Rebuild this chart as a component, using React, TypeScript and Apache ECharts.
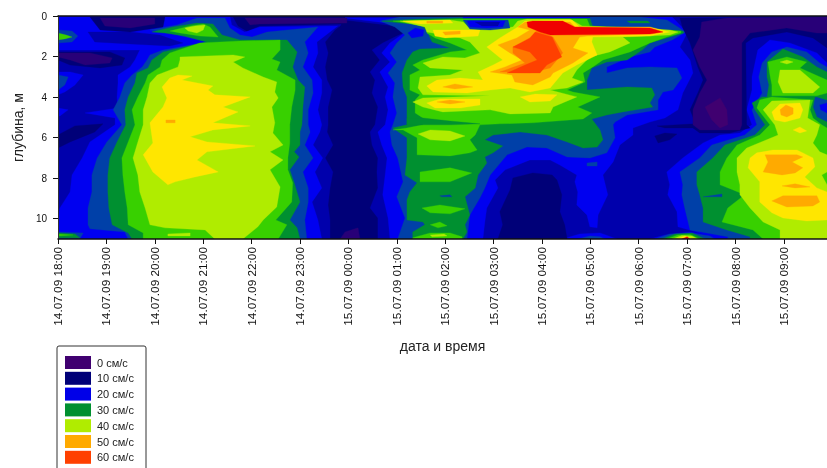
import React, { useEffect, useRef } from "react";
import * as echarts from "echarts";

const timeLabels = ["14.07.09 18:00","14.07.09 19:00","14.07.09 20:00","14.07.09 21:00","14.07.09 22:00","14.07.09 23:00","15.07.09 00:00","15.07.09 01:00","15.07.09 02:00","15.07.09 03:00","15.07.09 04:00","15.07.09 05:00","15.07.09 06:00","15.07.09 07:00","15.07.09 08:00","15.07.09 09:00"];
const legendLabels = ["0 см/с","10 см/с","20 см/с","30 см/с","40 см/с","50 см/с","60 см/с"];
const legendColors = ["#400070","#000078","#0000e8","#009030","#b0ec00","#ffaa00","#ff4000"];

type Ring = number[][];
// Contour outlines: [hours after 18:00, depth in metres]
const navyBase: Ring[] = [[[0,0],[15.89,0],[15.89,11],[0,11]]];
const nav2Rings: Ring[] = [
[[0,0],[5.93,0],[5.83,.49],[5.72,.69],[5.52,1.28],[5.58,1.82],[5.52,2.51],[5.56,3.16],[5.66,3.65],[5.58,4.49],[5.58,5.37],[5.56,5.72],[5.68,6.36],[5.52,7],[5.68,7.69],[5.62,8.48],[5.58,9.32],[5.62,10.06],[5.62,11],[0,11]],
[[5.93,0],[15.89,0],[15.89,11],[6.61,11],[6.61,9.96],[6.45,9.47],[6.61,8.48],[6.59,7.69],[6.61,7],[6.49,6.36],[6.45,5.72],[6.55,5.37],[6.61,4.49],[6.49,3.8],[6.55,3.16],[6.45,2.76],[6.65,2.17],[6.49,1.68],[6.71,1.33],[6.96,1.04],[7.27,.69],[7.21,.54],[6.96,.49],[5.93,.2]],
];
const blueRings: Ring[] = [
[[0,0],[3.55,0],[3.59,.44],[3.86,.79],[4.17,.54],[5.78,.49],[5.35,1.28],[5.37,1.82],[5.27,2.51],[5.45,3.16],[5.45,3.8],[5.37,4.63],[5.45,5.37],[5.41,5.72],[5.27,6.36],[5.47,7],[5.31,7.69],[5.45,8.48],[5.25,9.17],[5.37,10.06],[5.45,11],[0,11],[0,9.81],[.04,9.47],[.25,8.68],[.29,7.84],[.5,7],[.66,6.21],[1.18,5.37],[1.18,5.03],[.56,4.78],[1.24,4.54],[1.22,3.99],[1.24,3.3],[1.24,2.91],[1.49,2.51],[1.59,2.17],[1.69,1.68],[1.07,1.68],[0,1.68]],
[[0,2.76],[.25,2.76],[.52,2.91],[.35,3.4],[.14,3.75],[0,3.89]],
[[0,4.54],[.21,4.63],[.04,4.93],[0,4.93]],
[[5.93,.1],[12.69,.05],[12.91,.59],[13,.84],[12.85,1.53],[13.06,2.17],[13.12,2.81],[12.91,3.8],[12.81,4.63],[12.54,5.03],[12.23,5.23],[11.88,5.52],[11.88,5.87],[11.61,6.36],[11.47,7.2],[11.26,7.84],[11.36,8.82],[11.16,9.81],[11.14,10.45],[10.99,10.4],[10.93,9.81],[10.72,9.32],[10.74,8.68],[10.68,8.18],[10.72,7.84],[10.37,7.35],[10.17,7.1],[9.75,7.1],[9.24,7.59],[9.03,8.09],[9.09,8.48],[8.86,9.47],[8.82,10.16],[8.78,11],[6.86,11],[6.82,9.96],[6.71,8.82],[6.76,7.84],[6.8,7],[6.69,6.36],[6.61,5.72],[6.76,5.37],[6.82,4.63],[6.76,3.99],[6.82,3.5],[6.65,2.76],[6.86,2.27],[6.69,1.82],[6.86,1.33],[7.33,.54],[6.96,.39]],
[[10.43,11],[10.78,10.75],[11.2,10.7],[11.55,11]],
[[12.23,11],[12.54,10.8],[13.06,10.65],[13.57,10.85],[13.68,11]],
[[14.34,3.01],[14.46,1.68],[14.71,1.18],[15.12,1.33],[15.68,1.82],[15.89,2.32],[15.89,11],[13.68,11],[12.81,10.4],[12.79,9.66],[12.6,8.82],[12.64,8.33],[12.58,7.69],[12.91,7],[13.33,6.26],[13.68,5.87],[14.09,5.77],[14.34,5.37],[14.23,4.63],[14.34,3.65]],
];
const midRings: Ring[] = [
[[1.9,.69],[2.46,.44],[2.87,.1],[3.45,.1],[3.55,.59],[3.76,.94],[4.01,1.04],[4.32,.79],[5.37,.54],[5.1,1.28],[5.17,1.82],[5.06,2.51],[5.25,3.16],[5.27,3.8],[5.17,4.63],[5.17,5.37],[5.21,5.72],[5.1,6.36],[5.27,7],[5.06,7.69],[5.17,8.48],[5.17,9.17],[5.1,10.06],[5.14,11],[1.45,11],[1.38,10.65],[.66,10.5],[.62,10.3],[.62,9.47],[.7,8.68],[.7,7.84],[.81,7],[1.01,6.21],[1.32,5.37],[1.14,4.63],[1.28,3.99],[1.38,3.3],[1.53,2.91],[1.74,2.51],[1.84,2.17],[1.9,1.92],[2.17,1.68],[3.08,1.28],[2.73,1.08],[2.21,.79]],
[[0,2.91],[.21,3.01],[.14,3.4],[0,3.65]],
[[0,.69],[.29,.74],[.41,.99],[.29,1.28],[0,1.33]],
[[0,10.65],[.52,10.7],[.45,11],[0,11]],
[[6.65,.25],[7.07,.05],[12.02,.05],[12.58,.2],[12.81,.54],[12.97,.79],[12.69,1.18],[12.33,1.53],[12.23,1.77],[11.82,2.02],[11.34,2.51],[11.34,2.81],[11.76,2.56],[12.23,2.51],[12.79,2.56],[12.89,3.06],[12.71,3.65],[12.5,3.75],[12.4,4.14],[12.4,4.63],[11.76,4.88],[11.51,5.23],[11.47,5.37],[11.51,6.01],[11.34,6.75],[10.99,7],[10.52,6.95],[10.1,6.51],[9.69,6.46],[9.28,6.85],[8.93,7.84],[8.82,8.48],[8.72,8.97],[8.51,9.81],[8.45,11],[7.02,11],[7.07,10.65],[7.17,9.96],[7,8.92],[7.13,8.18],[7.02,7],[6.9,6.36],[6.86,5.72],[6.92,5.37],[7,4.78],[6.92,3.99],[6.96,3.3],[6.82,2.81],[7,2.27],[6.86,1.82],[7,1.33],[7.17,.94],[6.96,.54]],
[[10.93,7.25],[11.14,7.2],[11.14,7.4],[10.93,7.4]],
[[10.74,11],[10.99,10.85],[11.2,10.89],[11.3,11]],
[[12.33,11],[12.64,10.75],[13.06,10.7],[13.47,10.85],[13.57,11]],
[[14.48,3.01],[14.55,2.32],[14.75,1.77],[15.06,1.53],[15.47,1.77],[15.74,2.32],[15.89,2.51],[15.89,11],[13.84,11],[13.84,10.89],[13.06,10.55],[13.02,10.16],[12.95,9.47],[12.89,8.82],[12.91,8.33],[12.85,7.69],[13.26,7],[13.51,6.36],[14.19,5.87],[14.44,5.37],[14.34,4.63],[14.4,4.39],[14.55,3.8]],
];
const darkGreenRings: Ring[] = [
[[1.94,.79],[2.38,.54],[2.87,.35],[3.2,.39],[3.39,.94],[3.76,1.18],[4.73,1.18],[4.94,1.77],[4.85,2.51],[4.96,3.16],[5.1,3.5],[5.06,4.49],[5.04,5.37],[5,5.72],[5,6.36],[4.88,6.7],[4.98,6.95],[4.79,7.59],[4.88,8.23],[5,9.17],[4.79,10.06],[4.94,10.45],[5,11],[1.53,11],[1.45,10.7],[1.12,10.3],[1.05,9.47],[1.03,8.68],[1.03,7.84],[1.07,7],[1.22,6.21],[1.4,5.37],[1.38,4.63],[1.45,3.99],[1.59,3.3],[1.63,2.81],[1.86,2.56],[1.94,2.17],[2.17,1.77],[3.08,1.28],[2.62,.99],[2.21,.84]],
[[0,10.7],[.35,10.75],[.45,10.94],[0,10.94]],
[[6.69,.25],[7.42,.15],[8.31,.1],[9.4,.1],[10.99,.1],[11.05,.54],[11.61,.54],[12.91,.74],[12.93,.84],[12.58,1.08],[12.23,1.33],[12.07,1.68],[11.76,2.17],[11.34,2.27],[11.03,2.56],[10.93,3.16],[10.93,3.65],[11.76,3.5],[12.27,3.55],[12.33,3.89],[12.23,4.29],[12.29,4.49],[11.67,4.73],[11.34,4.88],[11.03,5.08],[11.2,5.62],[11.26,6.11],[11.14,6.46],[10.85,6.51],[10.52,6.21],[10.1,5.87],[9.55,5.72],[8.99,5.87],[8.82,6.11],[9.19,6.41],[8.99,6.75],[8.82,6.95],[8.86,7.25],[8.68,7.84],[8.62,8.48],[8.41,8.92],[8.51,9.81],[8.41,10.3],[8.45,10.65],[8.37,11],[7.33,11],[7.33,10.65],[7.58,10.3],[7.54,10.16],[7.21,10.06],[7.21,9.07],[7.27,8.68],[7.42,8.23],[7.17,7.84],[7.21,7],[7.21,6.01],[6.92,5.52],[7.21,5.37],[7.21,3.99],[7.13,3.5],[7.11,2.81],[7.21,2.17],[7.33,1.77],[7.48,1.63],[8.1,1.58],[7.73,1.28],[7.69,1.08],[7.62,.69],[7.48,.39],[7.07,.35]],
[[14.55,3.99],[15.64,3.99],[15.6,4.49],[15.68,4.98],[15.89,5.23],[15.89,11],[14.3,11],[14.3,10.89],[13.82,10.55],[13.33,10.16],[13.33,9.47],[13.26,8.82],[13.2,8.33],[13.2,7.69],[13.53,7],[13.78,6.36],[14.4,5.87],[14.61,5.37],[14.4,4.63],[14.34,4.29]],
[[14.65,2.27],[14.98,1.63],[15.39,2.02],[15.68,2.51],[15.89,2.76],[15.89,4.14],[15.68,3.99],[14.65,3.99],[14.69,3.4],[14.65,3.01]],
[[12.48,11],[12.75,10.75],[13.1,10.7],[13.37,11]],
];
const greenRings: Ring[] = [
[[0,10.75],[.31,10.8],[0,10.85]],
[[0,.84],[.17,.94],[.29,1.04],[.14,1.13],[0,1.18]],
[[2.31,.74],[2.73,.49],[3,.39],[3.14,.54],[3.31,1.04],[2.93,.99],[2.52,.84]],
[[2.93,1.33],[3.76,1.23],[4.59,1.18],[4.59,1.68],[4.42,2.12],[4.59,2.27],[4.52,2.66],[4.9,3.16],[4.9,3.65],[4.83,4.49],[4.79,5.37],[4.79,6.26],[4.75,7],[4.75,7.59],[4.85,8.23],[4.83,9.17],[4.5,10.06],[4.73,10.3],[4.55,11],[1.76,11],[1.76,10.7],[1.45,10.3],[1.43,9.47],[1.38,8.68],[1.34,7.84],[1.32,7],[1.45,6.21],[1.59,5.37],[1.53,4.63],[1.65,3.99],[1.8,3.3],[1.86,2.91],[2.11,2.51],[2.15,2.17],[2.31,1.82]],
[[6.92,.25],[8.31,.15],[9.4,.15],[10.93,.15],[10.99,.49],[11.71,.59],[12.87,.74],[12.87,.84],[12.58,1.04],[12.23,1.33],[11.82,1.77],[11.26,2.17],[11.05,2.51],[10.85,2.81],[10.89,3.25],[10.52,3.65],[10.64,3.75],[11.2,3.99],[10.74,4.49],[11.03,4.78],[10.85,5.08],[9.81,5.27],[9.13,5.32],[8.72,5.37],[8.62,5.87],[8.51,6.11],[8.66,6.61],[8.51,6.75],[8.1,6.9],[7.42,6.85],[7.42,6.01],[7.13,5.62],[6.92,5.62],[7.21,5.52],[7.54,5.37],[7.54,5.03],[7.38,4.78],[7.38,4.14],[7.48,3.89],[7.27,3.65],[7.27,2.91],[7.48,2.66],[7.33,2.42],[7.54,2.17],[8.1,1.77],[8.45,1.68],[8.1,1.33],[7.79,1.08],[7.62,.84],[7.64,.54],[7.07,.3]],
[[7.48,7.69],[8.1,7.49],[8.55,7.74],[8.1,8.18],[7.48,8.18]],
[[7.52,9.47],[7.89,9.32],[8.41,9.51],[8.1,9.76],[7.69,9.71]],
[[7.69,10.3],[7.89,10.16],[8.04,10.35],[7.85,10.45]],
[[7.33,10.94],[7.69,10.7],[8.1,10.7],[8.35,10.89],[8.35,11],[7.33,11]],
[[14.44,4.54],[14.5,4.14],[14.75,3.99],[15.6,4.14],[15.54,4.63],[15.6,5.03],[15.78,5.37],[15.89,5.52],[15.89,11],[14.57,11],[14.36,10.55],[13.72,10.16],[13.84,9.47],[14.19,8.82],[13.95,8.58],[13.68,8.33],[13.68,7.69],[13.82,7],[14.03,6.36],[14.5,5.87],[14.71,5.37]],
[[14.67,2.27],[15.06,2.02],[15.47,2.27],[15.33,2.56],[15.89,3.16],[15.89,3.8],[15.68,3.94],[14.75,3.94],[14.75,3.4],[14.71,2.91]],
[[12.58,11],[12.81,10.8],[13.06,10.78],[13.26,11]],
];
const limeRings: Ring[] = [
[[2.62,.59],[2.83,.49],[3.04,.44],[3,.69],[2.87,.84],[2.69,.74]],
[[2.52,2.02],[3.62,1.92],[3.86,2.02],[3.62,2.27],[3.82,2.56],[4.24,3.01],[4.52,3.25],[4.48,3.75],[4.55,4.04],[4.42,4.49],[4.48,5.27],[4.44,5.77],[4.65,6.36],[4.38,6.7],[4.65,7.1],[4.38,7.59],[4.59,8.43],[4.52,9.42],[4.24,10.06],[4.13,10.4],[3.82,11],[3.24,11],[3.04,10.55],[2.21,10.45],[1.9,10.3],[1.8,9.47],[1.69,8.68],[1.65,7.84],[1.55,7],[1.65,6.21],[1.76,5.37],[1.76,4.63],[1.84,3.99],[1.9,3.3],[2.05,2.91],[2.48,2.51],[2.52,2.17]],
[[2.27,10.75],[2.73,10.7],[2.73,10.85],[2.27,10.85]],
[[7.07,.25],[8.1,.2],[8.37,.3],[8.51,.59],[8.72,.69],[9.4,.54],[9.5,.25],[9.69,.15],[10.58,.15],[10.83,.49],[11.82,.59],[12.64,.69],[12.81,.79],[12.64,.94],[11.67,1.04],[11.82,1.33],[11.4,1.77],[10.99,2.02],[10.72,2.66],[10.62,3.06],[10.85,3.25],[10.52,3.55],[10.17,3.65],[10.72,3.99],[10.23,4.49],[10.17,4.78],[9.34,4.83],[8.93,4.63],[7.95,4.73],[7.54,4.49],[7.33,4.24],[7.54,4.04],[8.93,3.94],[7.54,3.89],[7.44,3.55],[7.48,3.01],[8.1,2.91],[8.37,2.66],[7.69,2.56],[7.54,2.32],[7.95,2.02],[8.41,2.07],[8.72,1.82],[8.51,1.28],[8.31,1.08],[7.62,.79],[7.58,.54]],
[[7.44,5.82],[7.69,5.62],[8.1,5.67],[8.41,5.92],[8.1,6.16],[7.69,6.11]],
[[7.69,10.8],[7.98,10.75],[8.04,10.85],[7.73,10.89]],
[[14.92,2.66],[15.33,2.66],[15.74,3.5],[15.6,3.8],[14.98,3.8],[14.88,3.25]],
[[14.92,2.27],[15.06,2.17],[15.19,2.27],[15.06,2.37]],
[[14.57,4.63],[14.75,4.19],[15.54,4.14],[15.49,5.03],[15.74,5.37],[15.68,5.87],[15.6,6.26],[15.74,6.7],[15.89,6.85],[15.89,7.69],[15.78,7.84],[15.89,8.33],[15.89,11],[14.92,11],[14.92,10.55],[14.57,10.16],[14.3,9.47],[14.09,8.82],[14.09,8.33],[14.03,7.69],[14.03,7],[14.23,6.51],[14.88,5.87],[14.81,5.37]],
[[12.69,11],[12.89,10.83],[13.1,10.85],[13.22,11]],
];
const yellowRings: Ring[] = [
[[2.48,2.91],[2.77,2.96],[2.56,3.16],[3.2,3.45],[3.1,3.65],[3.24,3.89],[3.97,3.99],[3.41,4.49],[3.72,4.73],[3.2,5.27],[3.97,5.42],[3.2,5.62],[2.73,5.96],[3.08,6.21],[4.07,6.41],[3.08,6.7],[2.87,7.1],[3.31,7.69],[2.83,7.94],[2.42,8.18],[2.27,8.33],[1.96,7.69],[1.76,6.85],[1.96,6.26],[1.9,5.27],[2.17,4.49],[2.25,4.04],[2.15,3.5],[2.31,3.06]],
[[9.5,.54],[9.65,.25],[10.62,.2],[10.78,.54],[12.23,.54],[12.64,.79],[12.23,.99],[11.05,1.04],[11.03,1.28],[11.14,1.92],[10.72,2.42],[10.43,2.81],[10.17,3.55],[9.75,3.75],[9.34,3.55],[8.93,3.65],[8.45,3.8],[7.75,3.75],[7.62,3.45],[7.83,3.16],[8.31,3.06],[8.78,3.16],[8.68,2.76],[8.99,2.42],[9.19,2.17],[8.86,1.53],[9.13,1.08]],
[[9.55,3.99],[9.86,3.85],[10.31,3.89],[10.17,4.19],[9.75,4.24]],
[[7.62,4.29],[7.89,4.09],[8.72,4.09],[8.72,4.39],[8.31,4.54],[7.79,4.54]],
[[7.13,.25],[8.1,.2],[8.16,.35],[7.48,.39]],
[[7.75,.69],[8.72,.69],[8.68,.99],[8,1.08],[7.79,.99]],
[[14.75,4.73],[14.92,4.34],[15.33,4.29],[15.39,4.63],[15.33,5.03],[15.02,5.23],[14.81,5.13]],
[[15.19,5.62],[15.33,5.47],[15.47,5.67],[15.33,5.77]],
[[14.44,6.75],[14.77,6.61],[15.27,6.61],[15.6,7],[15.64,7.44],[15.43,7.94],[15.68,8.48],[15.89,8.68],[15.89,10.06],[15.47,10.11],[14.98,9.96],[14.75,9.71],[14.5,9.17],[14.5,8.18],[14.26,7.49],[14.3,7]],
[[12.79,11],[12.95,10.85],[13.12,11]],
];
const orangeRings: Ring[] = [
[[2.23,5.13],[2.42,5.13],[2.42,5.27],[2.23,5.27]],
[[9.65,.3],[10.58,.3],[10.68,.54],[12.23,.57],[12.5,.79],[12.23,.89],[10.93,.99],[10.78,1.04],[10.64,1.58],[10.95,1.82],[10.64,2.32],[10.23,2.81],[10.17,3.01],[9.81,3.4],[9.44,3.25],[9.38,2.91],[8.93,2.76],[9.24,2.51],[9.59,2.17],[9.34,1.82],[9.09,1.43],[9.48,1.08],[9.75,.69],[9.5,.54]],
[[7.95,3.5],[8.2,3.35],[8.57,3.5],[8.2,3.6]],
[[7.83,4.24],[8.1,4.14],[8.41,4.24],[8.1,4.34]],
[[7.95,.79],[8.31,.74],[8.31,.89],[8,.94]],
[[7.62,.25],[7.95,.25],[7.95,.35],[7.62,.35]],
[[14.61,6.85],[15.27,6.85],[15.39,6.95],[15.17,7.2],[15.39,7.49],[15.23,7.74],[14.96,7.84],[14.57,7.69],[14.67,7.2]],
[[14.96,8.38],[15.23,8.28],[15.54,8.43],[15.23,8.48]],
[[14.75,9.12],[14.98,8.87],[15.68,8.87],[15.74,9.17],[15.6,9.37],[15.06,9.42]],
[[14.92,4.63],[15.04,4.39],[15.19,4.54],[15.19,4.83],[15.06,4.98],[14.94,4.88]],
];
const deepOrangeRings: Ring[] = [[[10.23,1.04],[10.43,1.82],[10.17,2.56],[9.75,2.81],[9.13,2.76],[9.65,2.32],[9.4,1.82],[9.4,1.53],[9.75,1.18],[9.9,.69]]];
const redOrangeRings: Ring[] = [[[9.86,.79],[10.21,1.04],[10.31,1.53],[10.41,2.02],[10.1,2.42],[9.96,2.81],[9.28,2.81],[9.65,2.42],[9.9,2.17],[9.75,1.77],[9.4,1.53],[9.75,1.08]]];
const redRings: Ring[] = [
[[9.69,.3],[9.81,.25],[10.43,.25],[10.68,.54],[12.23,.59],[12.5,.79],[12.23,.89],[10.17,.94],[9.96,.79],[9.71,.54]],
[[12.89,11],[13,10.89],[13.06,11]],
];
const stripeDarkGreen: Ring[] = [
[[7.21,5.03],[7.54,5.03],[8.1,5.18],[8.72,5.32],[8.1,5.37],[7.54,5.37],[7.21,5.37]],
[[11.76,.25],[12.19,.25],[12.23,.35],[11.82,.35]],
];
const patchMid: Ring[] = [
[[8.37,.2],[9.3,.2],[9.34,.59],[8.93,.69],[8.51,.64]],
[[7.89,8.87],[8.1,8.82],[8.14,8.92],[7.93,8.92]],
[[13.33,8.92],[13.72,8.78],[13.72,8.92]],
];
const patchBlue: Ring[] = [
[[8.45,.25],[9.24,.25],[9.19,.54],[8.86,.59],[8.51,.54]],
[[8.37,0],[10.99,0],[10.99,.1],[8.37,.1]],
[[7.23,.84],[7.38,.59],[7.56,.69],[7.54,.99],[7.31,1.08]],
[[15.74,4.39],[15.89,4.29],[15.89,4.78],[15.76,4.63]],
];
const patchNav2: Ring[] = [
[[8.62,.3],[9.13,.3],[9.09,.49],[8.76,.49]],
[[.62,.79],[1.49,.79],[2.1,.94],[2.58,1.33],[2.31,1.48],[1.49,1.38],[.76,1.28]],
];
const patchNavy: Ring[] = [
[[.66,.05],[2.21,.05],[2.17,.54],[1.49,.79],[.87,.69]],
[[0,1.77],[1.07,1.77],[1.38,2.07],[1.32,2.42],[.87,2.56],[.25,2.42],[0,2.17]],
[[0,5.87],[.35,5.42],[.93,5.32],[.76,5.72],[.25,6.21],[0,6.51]],
[[3.62,.05],[5.93,.05],[5.93,.39],[4.17,.49],[3.9,.74],[3.72,.49]],
[[9.09,11],[9.19,10.3],[9.13,9.66],[9.34,8.58],[9.4,7.99],[9.81,7.74],[10.21,7.84],[10.31,8.09],[10.41,8.82],[10.37,9.66],[10.47,10.3],[10.52,11]],
[[12.85,.1],[15.89,.05],[15.89,1.58],[15.6,1.08],[15.06,.79],[14.36,1.08],[14.21,1.33],[14.23,5.37],[14.3,5.52],[13.88,5.77],[13.26,5.77],[13.12,5.52],[13.16,5.23],[13.06,4.63],[13.22,3.8],[13.33,3.16],[13.22,2.51],[13.06,1.33],[12.91,.59]],
[[12.33,5.92],[12.54,5.77],[12.79,5.82],[12.64,6.11],[12.4,6.26]],
[[12.38,5.42],[13.16,5.32],[13.16,5.52],[12.54,5.52]],
];
const indigoRings: Ring[] = [
[[.87,.1],[2,.1],[2,.39],[1.49,.59],[.97,.49]],
[[0,1.82],[.66,1.82],[1.12,2.07],[1.07,2.32],[.56,2.42],[.25,2.17],[0,2.02]],
[[3.86,.1],[5.97,.1],[5.97,.35],[4.17,.39],[3.97,.44]],
[[5.83,11],[5.93,10.65],[6.2,10.45],[6.24,11]],
[[13.3,.3],[13.82,.1],[15.89,.05],[15.89,.84],[15.68,.84],[15.06,.59],[14.3,.84],[14.13,1.33],[14.13,5.37],[14.09,5.62],[13.26,5.62],[13.12,5.37],[13.12,4.63],[13.26,3.8],[13.41,3.16],[13.26,2.51],[13.12,1.68],[13.26,1.04]],
];
const purpleRings: Ring[] = [[[13.37,4.49],[13.68,4.04],[13.82,4.63],[13.84,5.37],[13.68,5.52],[13.51,5.13]]];

const NAVY = "#000078", NAV2 = "#0000ac", BLUE = "#0000f0", MID = "#0040a8", DARKGREEN = "#009030", GREEN = "#38d000", LIME = "#b0ec00", YELLOW = "#ffe600", ORANGE = "#ffaa00", DEEP = "#ff7800", REDOR = "#ff4000", RED = "#f00000", INDIGO = "#280078", PURPLE = "#400070";

const stack: [string, Ring[]][] = [
  [NAVY, navyBase],[NAV2, nav2Rings],[BLUE, blueRings],[MID, midRings],[DARKGREEN, darkGreenRings],[GREEN, greenRings],[LIME, limeRings],[YELLOW, yellowRings],[ORANGE, orangeRings],[DEEP, deepOrangeRings],[REDOR, redOrangeRings],[RED, redRings],
  [DARKGREEN, stripeDarkGreen],[MID, patchMid],[BLUE, patchBlue],[NAV2, patchNav2],[NAVY, patchNavy],[INDIGO, indigoRings],[PURPLE, purpleRings],
];
const flat = stack.flatMap(([color, rings]) => rings.map((ring) => ({ color, ring })));

const FONT = "Liberation Sans";

export default function App() {
  const ref = useRef<HTMLDivElement>(null);
  useEffect(() => {
    const chart = echarts.init(ref.current!, undefined, { renderer: "svg" });
    const legendX = 57, legendY = 346;
    chart.setOption({
      animation: false,
      backgroundColor: "#fff",
      grid: { left: 58, top: 16, width: 769, height: 223, containLabel: false },
      xAxis: [
        {
          type: "value", min: 0, max: 15.89, interval: 1, position: "bottom", z: 10,
          name: "дата и время", nameLocation: "middle", nameGap: 100,
          nameTextStyle: { fontFamily: FONT, fontSize: 14, color: "#222" },
          axisLine: { show: true, onZero: false, lineStyle: { color: "#111", width: 1.5 } },
          axisTick: { show: true, length: 5, lineStyle: { color: "#111" } },
          splitLine: { show: false },
          axisLabel: { rotate: 90, margin: 8, fontFamily: FONT, fontSize: 11.8, color: "#111", hideOverlap: false, showMaxLabel: false, formatter: (v: number) => timeLabels[v] ?? "" },
        },
        {
          type: "value", min: 0, max: 15.89, position: "top", z: 10,
          axisLine: { show: true, onZero: false, lineStyle: { color: "#111", width: 1.5 } },
          axisTick: { show: false }, axisLabel: { show: false }, splitLine: { show: false },
        },
      ],
      yAxis: {
        type: "value", min: 0, max: 11, interval: 2, inverse: true, z: 10,
        name: "глубина, м", nameLocation: "middle", nameGap: 33, nameRotate: 90,
        nameTextStyle: { fontFamily: FONT, fontSize: 14, color: "#222" },
        axisLine: { show: true, onZero: false, lineStyle: { color: "#333", width: 1 } },
        axisTick: { show: true, length: 5, lineStyle: { color: "#111" } },
        splitLine: { show: false },
        axisLabel: { margin: 11, fontFamily: FONT, fontSize: 10, color: "#111", showMaxLabel: false, formatter: (v: number) => (v === 11 ? "" : String(v)) },
      },
      series: [
        {
          type: "custom", xAxisIndex: 0, yAxisIndex: 0, silent: true, clip: true,
          data: flat.map(() => [0, 0]),
          renderItem: (params: any, api: any) => {
            const item = flat[params.dataIndex];
            return {
              type: "polygon",
              shape: { points: item.ring.map((p) => api.coord(p)) },
              style: { fill: item.color, stroke: item.color, lineWidth: 0.3 },
            };
          },
        },
      ],
      graphic: [
        { type: "rect", shape: { x: legendX, y: legendY, width: 89, height: 135, r: 2 }, style: { fill: "#fff", stroke: "#333", lineWidth: 1 } },
        ...legendLabels.flatMap((label, i) => [
          { type: "rect", shape: { x: 65, y: 356 + i * 15.8, width: 26, height: 13 }, style: { fill: legendColors[i] } },
          { type: "text", x: 97, y: 362.5 + i * 15.8, style: { text: label, fontFamily: FONT, fontSize: 11, fill: "#222", verticalAlign: "middle" } },
        ]),
      ],
    });
    return () => chart.dispose();
  }, []);
  return <div ref={ref} style={{ position: "absolute", left: 0, top: 0, width: 827, height: 468, filter: "blur(0.6px)" }} />;
}
